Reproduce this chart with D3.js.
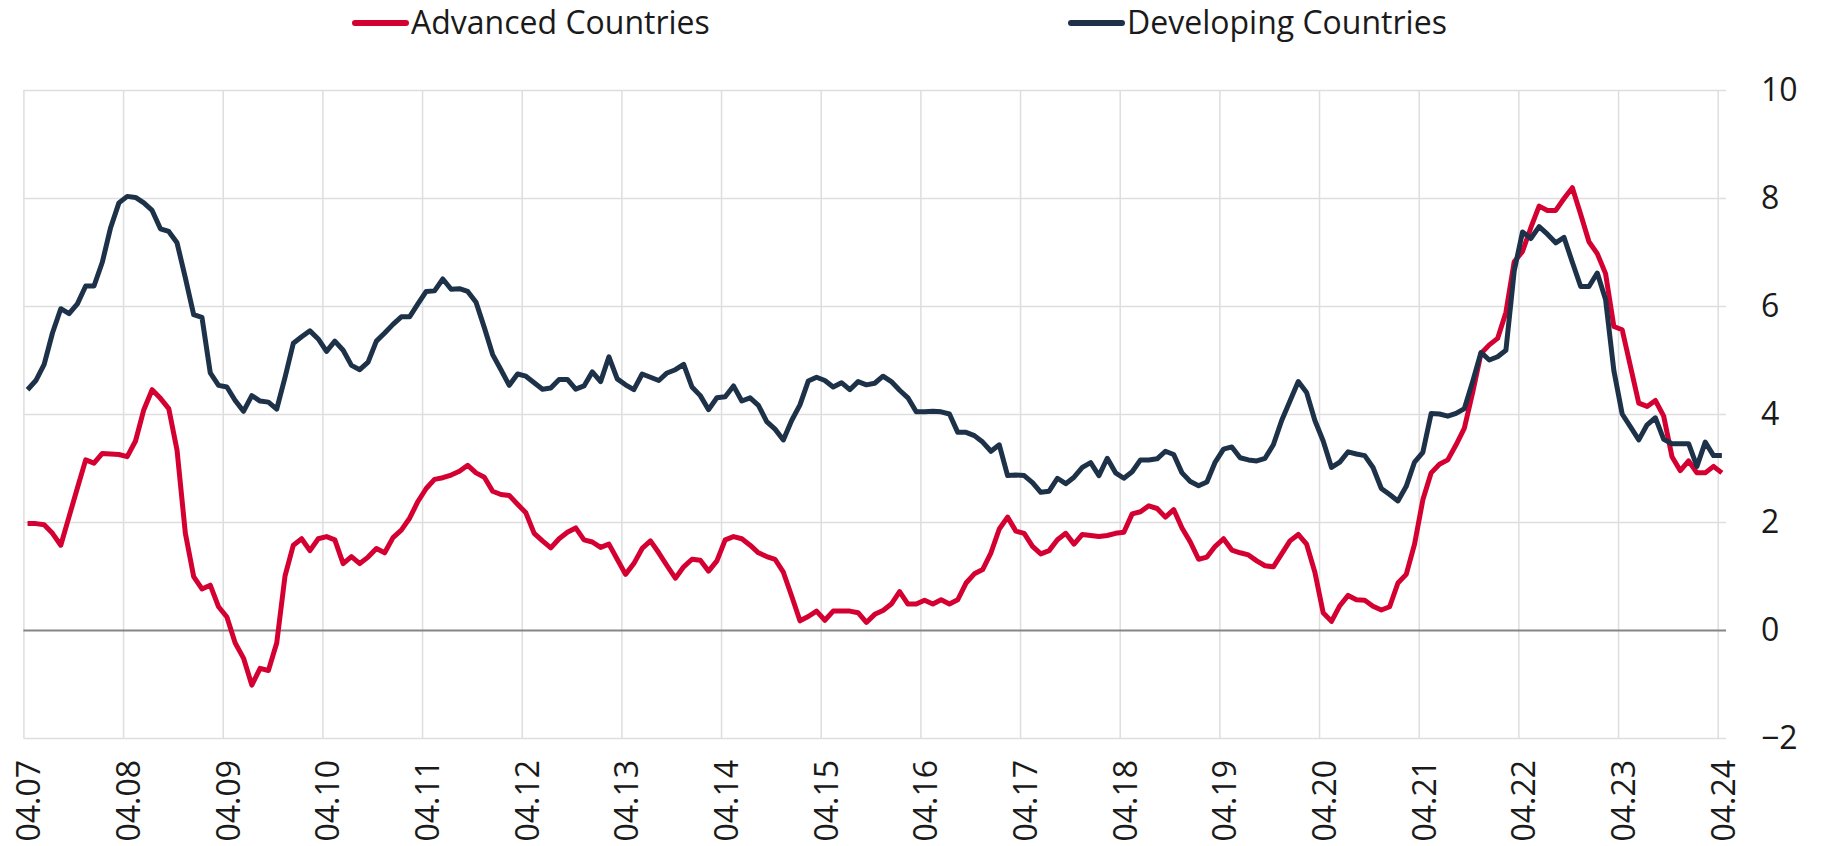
<!DOCTYPE html>
<html lang="en">
<head>
  <meta charset="UTF-8">
  <title>Inflation: advanced vs developing countries</title>
  <script src="https://d3js.org/d3.v7.min.js"></script>
  <style>
    body { margin: 0; background: #fff; }
    text { font-family: "Open Sans", sans-serif; fill: #1a1a1a; }
  </style>
</head>
<body>
<div class="canvas"></div>
<script>
  // monthly, 04.07 .. 04.24
  const months = d3.timeMonth.range(new Date(2007, 3, 1), new Date(2024, 4, 1))
  const tickLabels = ['04.07', '04.08', '04.09', '04.10', '04.11', '04.12', '04.13', '04.14', '04.15',
    '04.16', '04.17', '04.18', '04.19', '04.20', '04.21', '04.22', '04.23', '04.24']
  const yTicks = [-2, 0, 2, 4, 6, 8, 10]

  const advanced = [
    1.97, 1.97, 1.95, 1.79, 1.57, 2.10, 2.63, 3.15, 3.09, 3.27, 3.26, 3.25,
    3.21, 3.50, 4.08, 4.45, 4.29, 4.10, 3.33, 1.79, 0.99, 0.76, 0.83, 0.43,
    0.24, -0.24, -0.52, -1.02, -0.71, -0.75, -0.24, 1.00, 1.57, 1.69, 1.47, 1.69,
    1.73, 1.67, 1.23, 1.36, 1.23, 1.35, 1.51, 1.43, 1.71, 1.85, 2.07, 2.38,
    2.62, 2.79, 2.82, 2.87, 2.94, 3.05, 2.91, 2.83, 2.57, 2.51, 2.49, 2.33,
    2.17, 1.79, 1.65, 1.52, 1.69, 1.81, 1.89, 1.67, 1.63, 1.53, 1.59, 1.31,
    1.03, 1.23, 1.51, 1.65, 1.43, 1.19, 0.96, 1.17, 1.31, 1.29, 1.09, 1.28,
    1.67, 1.73, 1.69, 1.57, 1.43, 1.36, 1.31, 1.07, 0.63, 0.17, 0.25, 0.35,
    0.18, 0.35, 0.35, 0.35, 0.32, 0.14, 0.29, 0.36, 0.48, 0.71, 0.48, 0.48,
    0.55, 0.48, 0.56, 0.48, 0.56, 0.87, 1.04, 1.12, 1.43, 1.87, 2.09, 1.83,
    1.79, 1.55, 1.41, 1.47, 1.67, 1.79, 1.59, 1.77, 1.75, 1.73, 1.75, 1.79,
    1.81, 2.15, 2.19, 2.30, 2.25, 2.09, 2.23, 1.89, 1.63, 1.31, 1.35, 1.55,
    1.69, 1.48, 1.43, 1.39, 1.28, 1.19, 1.17, 1.41, 1.65, 1.77, 1.59, 1.07,
    0.32, 0.16, 0.45, 0.64, 0.56, 0.55, 0.44, 0.37, 0.43, 0.87, 1.03, 1.59,
    2.41, 2.91, 3.07, 3.15, 3.43, 3.74, 4.40, 5.12, 5.28, 5.40, 5.88, 6.82,
    7.01, 7.45, 7.85, 7.77, 7.77, 7.99, 8.19, 7.70, 7.19, 6.97, 6.60, 5.62,
    5.56, 4.88, 4.20, 4.14, 4.25, 3.96, 3.21, 2.95, 3.13, 2.91, 2.91, 3.03,
    2.91
  ]
  const developing = [
    4.45, 4.62, 4.92, 5.50, 5.95, 5.86, 6.04, 6.37, 6.37, 6.81, 7.45, 7.91,
    8.03, 8.01, 7.91, 7.77, 7.43, 7.38, 7.17, 6.52, 5.84, 5.79, 4.76, 4.53,
    4.50, 4.25, 4.05, 4.34, 4.24, 4.22, 4.09, 4.68, 5.31, 5.43, 5.54, 5.39,
    5.16, 5.35, 5.18, 4.90, 4.82, 4.96, 5.35, 5.50, 5.66, 5.80, 5.80, 6.04,
    6.27, 6.28, 6.50, 6.31, 6.32, 6.27, 6.07, 5.60, 5.10, 4.82, 4.53, 4.74,
    4.70, 4.58, 4.46, 4.48, 4.64, 4.64, 4.46, 4.52, 4.78, 4.60, 5.06, 4.65,
    4.54, 4.45, 4.74, 4.68, 4.62, 4.76, 4.82, 4.92, 4.50, 4.34, 4.08, 4.30,
    4.32, 4.52, 4.24, 4.30, 4.16, 3.86, 3.72, 3.52, 3.88, 4.17, 4.61, 4.68,
    4.62, 4.50, 4.58, 4.45, 4.60, 4.54, 4.57, 4.70, 4.60, 4.44, 4.30, 4.04,
    4.04, 4.05, 4.04, 4.00, 3.66, 3.66, 3.60, 3.48, 3.31, 3.43, 2.86, 2.87,
    2.86, 2.73, 2.55, 2.57, 2.81, 2.71, 2.83, 3.01, 3.10, 2.86, 3.18, 2.91,
    2.81, 2.93, 3.15, 3.15, 3.17, 3.31, 3.25, 2.91, 2.75, 2.67, 2.74, 3.11,
    3.35, 3.39, 3.19, 3.15, 3.13, 3.18, 3.43, 3.88, 4.24, 4.60, 4.40, 3.88,
    3.50, 3.01, 3.11, 3.30, 3.26, 3.23, 3.01, 2.62, 2.51, 2.39, 2.66, 3.11,
    3.29, 4.01, 4.00, 3.96, 4.01, 4.10, 4.60, 5.14, 5.00, 5.06, 5.18, 6.65,
    7.37, 7.25, 7.47, 7.33, 7.17, 7.27, 6.81, 6.36, 6.36, 6.61, 6.12, 4.80,
    4.00, 3.76, 3.52, 3.80, 3.93, 3.53, 3.45, 3.45, 3.45, 3.03, 3.48, 3.23,
    3.23
  ]

  const series = [
    { name: 'Advanced Countries', values: advanced, color: '#d50032', lx: 352 },
    { name: 'Developing Countries', values: developing, color: '#1d3249', lx: 1068 }
  ]

  const W = 1836, H = 846
  const plotL = 23.4, plotR = 1726, plotT = 90, plotB = 738
  const fmt = d3.timeFormat('%m.%y')

  const svg = d3.select('.canvas')
    .append('svg')
    .attr('width', W)
    .attr('height', H)

  // each month is one slot, points sit in the middle, gridlines on slot start
  const x = d3.scaleLinear().domain([0, months.length]).range([plotL, plotR])
  const y = d3.scaleLinear().domain([-2, 10]).range([plotB, plotT])

  const tickIdx = months.map((m, i) => i).filter(i => tickLabels.includes(fmt(months[i])))

  // vertical grid + rotated labels
  const xAxis = svg.append('g')
    .attr('transform', `translate(0, ${plotB})`)
    .call(d3.axisBottom(x)
      .tickValues(tickIdx)
      .tickFormat(i => fmt(months[i]))
      .tickSize(-(plotB - plotT))
      .tickSizeOuter(0))
  xAxis.select('.domain').remove()
  xAxis.selectAll('.tick line').attr('stroke', '#dedede').attr('stroke-width', 1.5)
  xAxis.selectAll('.tick text')
    .attr('font-size', 32)
    .attr('text-anchor', 'end')
    .attr('transform', 'translate(5, 22) rotate(-90)')
    .attr('x', 0)
    .attr('y', 0)
    .attr('dy', '0.36em')

  // horizontal grid + labels on the right
  const yAxis = svg.append('g')
    .attr('transform', `translate(${plotR}, 0)`)
    .call(d3.axisRight(y)
      .tickValues(yTicks)
      .tickSize(-(plotR - plotL))
      .tickPadding(35)
      .tickSizeOuter(0))
  yAxis.select('.domain').remove()
  yAxis.selectAll('.tick line')
    .attr('stroke', d => d === 0 ? '#858585' : '#dedede')
    .attr('stroke-width', d => d === 0 ? 1.8 : 1.5)
  yAxis.selectAll('.tick text').attr('font-size', 32)

  const line = d3.line()
    .x((d, i) => x(i + 0.5))
    .y(d => y(d))

  svg.append('g')
    .selectAll('path')
    .data(series)
    .enter()
    .append('path')
    .attr('fill', 'none')
    .attr('stroke', d => d.color)
    .attr('stroke-width', 5)
    .attr('stroke-linejoin', 'round')
    .attr('d', d => line(d.values))

  // legend
  const lg = svg.append('g')
    .selectAll('g')
    .data(series)
    .enter()
    .append('g')
    .attr('transform', d => `translate(${d.lx}, 23)`)
  lg.append('line')
    .attr('x1', 3).attr('x2', 54)
    .attr('stroke', d => d.color)
    .attr('stroke-width', 6)
    .attr('stroke-linecap', 'round')
  lg.append('text')
    .attr('x', 59)
    .attr('dy', '0.35em')
    .attr('font-size', 32)
    .text(d => d.name)
</script>
</body>
</html>
